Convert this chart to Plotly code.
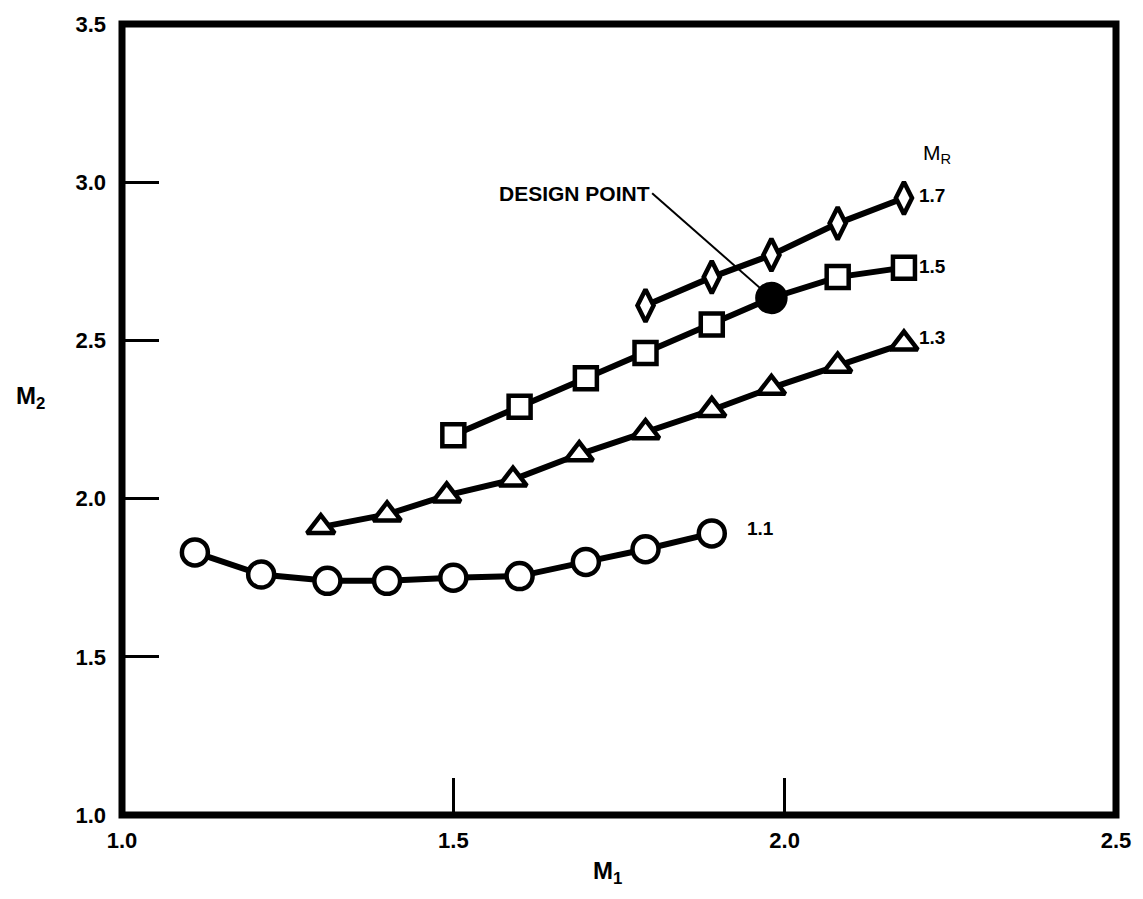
import plotly.graph_objects as go

# ---- data ----
mr11_x = [1.11, 1.21, 1.31, 1.40, 1.50, 1.60, 1.70, 1.79, 1.89]
mr11_y = [1.83, 1.76, 1.74, 1.74, 1.75, 1.755, 1.80, 1.84, 1.89]

mr13_x = [1.30, 1.40, 1.49, 1.59, 1.69, 1.79, 1.89, 1.98, 2.08, 2.18]
mr13_y = [1.91, 1.95, 2.01, 2.06, 2.14, 2.21, 2.28, 2.35, 2.42, 2.49]

mr15_x = [1.50, 1.60, 1.70, 1.79, 1.89, 1.98, 2.08, 2.18]
mr15_y = [2.20, 2.29, 2.38, 2.46, 2.55, 2.634, 2.70, 2.73]
design_index = 5  # the filled point on the M_R = 1.5 curve

mr17_x = [1.79, 1.89, 1.98, 2.08, 2.18]
mr17_y = [2.61, 2.70, 2.77, 2.87, 2.95]

series_labels = ["1.1", "1.3", "1.5", "1.7"]
x_ticks = [1.0, 1.5, 2.0, 2.5]
y_ticks = [1.0, 1.5, 2.0, 2.5, 3.0, 3.5]

FONT = "Liberation Sans, Arial, Helvetica, sans-serif"
LW = 6
MLW = 4.5

# plot-area geometry (pixels)
W, H = 1143, 899
ML, MR, MT, MB = 122, 27, 19, 84
PW, PH = W - ML - MR, H - MT - MB


def px_to_paper(px, py):
    return (px - ML) / PW, (H - MB - py) / PH


fig = go.Figure()

# M_R = 1.1 circles
fig.add_trace(go.Scatter(
    x=mr11_x, y=mr11_y, mode="lines+markers",
    line=dict(color="black", width=LW),
    marker=dict(symbol="circle", size=26, color="white", opacity=1,
                line=dict(color="black", width=MLW)),
    showlegend=False))

# M_R = 1.3 triangles
fig.add_trace(go.Scatter(
    x=mr13_x, y=mr13_y, mode="lines+markers",
    line=dict(color="black", width=LW),
    marker=dict(symbol="triangle-up", size=24, color="white", opacity=1,
                line=dict(color="black", width=MLW)),
    showlegend=False))

# M_R = 1.5 squares (with design point)
sym15 = ["square"] * len(mr15_x)
size15 = [22] * len(mr15_x)
col15 = ["white"] * len(mr15_x)
sym15[design_index] = "circle"
size15[design_index] = 28
col15[design_index] = "black"
fig.add_trace(go.Scatter(
    x=mr15_x, y=mr15_y, mode="lines+markers",
    line=dict(color="black", width=LW),
    marker=dict(symbol=sym15, size=size15, color=col15, opacity=1,
                line=dict(color="black", width=MLW)),
    showlegend=False))

# M_R = 1.7 diamonds
fig.add_trace(go.Scatter(
    x=mr17_x, y=mr17_y, mode="lines+markers",
    line=dict(color="black", width=LW),
    marker=dict(symbol="diamond-tall", size=23, color="white", opacity=1,
                line=dict(color="black", width=MLW)),
    showlegend=False))

axis_common = dict(
    showgrid=False, zeroline=False, showline=False,
    ticks="inside", ticklen=37, tickwidth=2.5, tickcolor="black",
    tickfont=dict(family=FONT, size=22, color="black", weight="bold"),
)

fig.update_layout(
    width=W, height=H,
    margin=dict(l=ML, r=MR, t=MT, b=MB),
    paper_bgcolor="white", plot_bgcolor="white",
    xaxis=dict(range=[1.0, 2.5], tickvals=x_ticks,
               ticktext=[f"{v:.1f}" for v in x_ticks],
               ticklabelstandoff=10, **axis_common),
    yaxis=dict(range=[1.0, 3.5], tickvals=y_ticks,
               ticktext=[f"{v:.1f}" for v in y_ticks],
               ticklabelstandoff=15, **axis_common),
)

# frame
fig.add_shape(type="rect", xref="paper", yref="paper", x0=0, y0=0, x1=1, y1=1,
              line=dict(color="black", width=7), layer="above")

# leader line from "DESIGN POINT" to the design point
fig.add_shape(type="line", xref="x", yref="y",
              x0=1.80, y0=2.965, x1=mr15_x[design_index], y1=mr15_y[design_index],
              line=dict(color="black", width=2), layer="below")
fig.add_annotation(x=1.80, y=2.965, xref="x", yref="y", text="DESIGN POINT",
                   showarrow=False, xanchor="right", yanchor="middle",
                   font=dict(family=FONT, size=21, color="black", weight="bold"))

# series labels
label_pos = [(1.94, 1.905), (2.20, 2.508), (2.20, 2.734), (2.20, 2.957)]
for txt, (lx, ly) in zip(series_labels, label_pos):
    fig.add_annotation(x=lx, y=ly, xref="x", yref="y", text=txt, showarrow=False,
                       xanchor="left", yanchor="middle",
                       font=dict(family=FONT, size=19, color="black", weight="bold"))

fig.add_annotation(x=2.205, y=3.09, xref="x", yref="y", text="M<sub>R</sub>",
                   showarrow=False, xanchor="left", yanchor="middle",
                   font=dict(family=FONT, size=21, color="black"))

# axis titles
m1x, m1y = px_to_paper(607, 873)
fig.add_annotation(x=m1x, y=m1y, xref="paper", yref="paper",
                   text="M<sub>1</sub>", showarrow=False,
                   xanchor="center", yanchor="middle",
                   font=dict(family=FONT, size=24, color="black", weight="bold"))
m2x, m2y = px_to_paper(30, 395)
fig.add_annotation(x=m2x, y=m2y, xref="paper", yref="paper",
                   text="M<sub>2</sub>", showarrow=False,
                   xanchor="center", yanchor="middle",
                   font=dict(family=FONT, size=24, color="black", weight="bold"))

fig.write_html("out.html")
